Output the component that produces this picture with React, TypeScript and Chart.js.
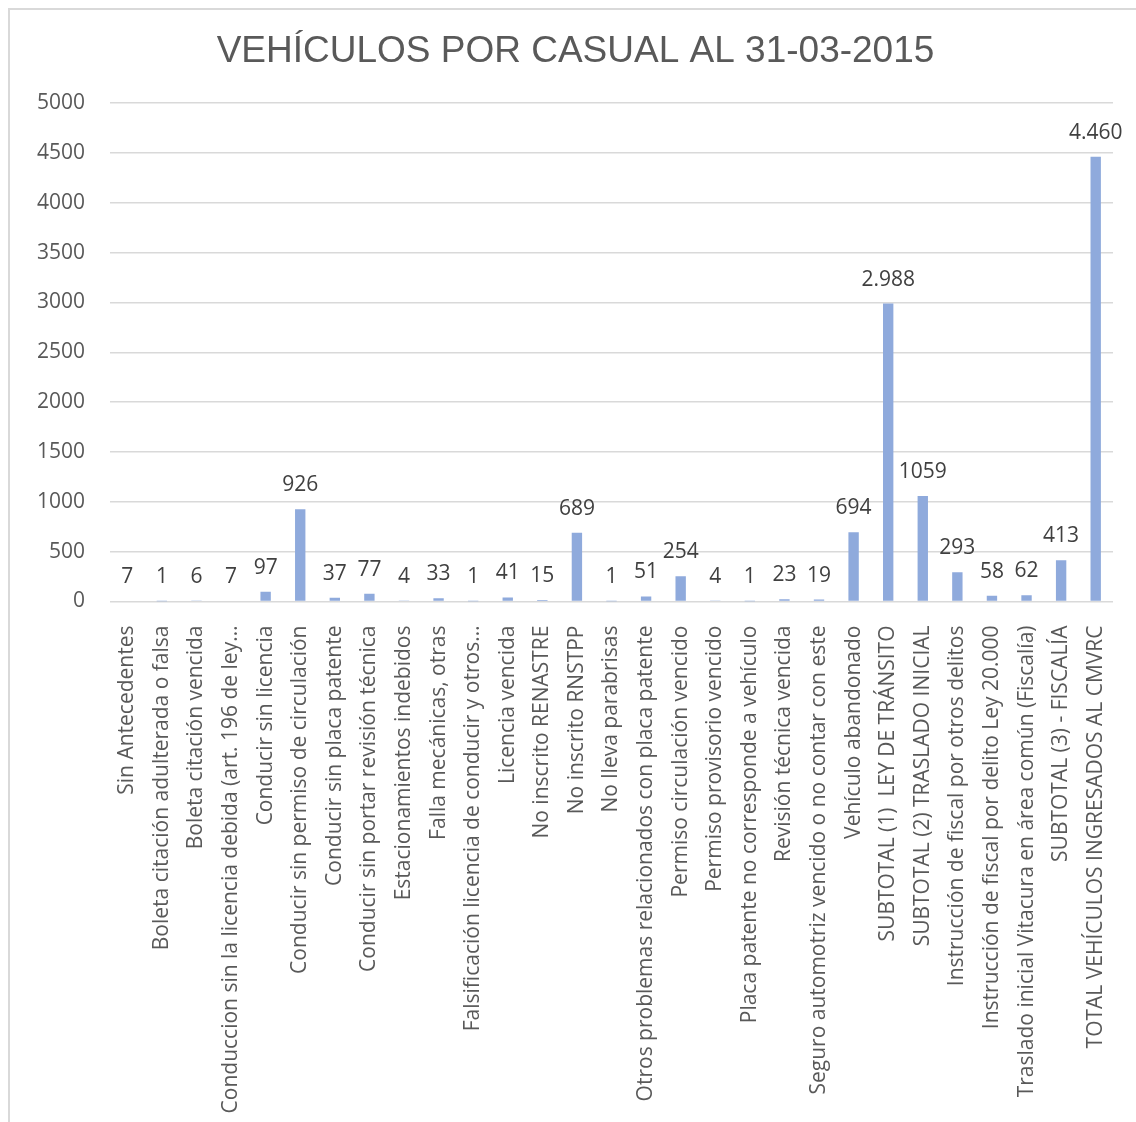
import React, { useEffect, useRef } from "react";
import { Chart, registerables } from "chart.js";

Chart.register(...registerables);

const TITLE = "VEHÍCULOS POR CASUAL AL 31-03-2015";

const categories = [
  "Sin Antecedentes",
  "Boleta citación adulterada o falsa",
  "Boleta citación vencida",
  "Conduccion sin la licencia debida (art. 196 de ley…",
  "Conducir sin licencia",
  "Conducir sin permiso de circulación",
  "Conducir sin placa patente",
  "Conducir sin portar revisión técnica",
  "Estacionamientos indebidos",
  "Falla mecánicas, otras",
  "Falsificación licencia de conducir y otros…",
  "Licencia vencida",
  "No inscrito RENASTRE",
  "No inscrito RNSTPP",
  "No lleva parabrisas",
  "Otros problemas relacionados con placa patente",
  "Permiso circulación vencido",
  "Permiso provisorio vencido",
  "Placa patente no corresponde a vehículo",
  "Revisión técnica vencida",
  "Seguro automotriz vencido o no contar con este",
  "Vehículo abandonado",
  "SUBTOTAL (1)  LEY DE TRÁNSITO",
  "SUBTOTAL (2) TRASLADO INICIAL",
  "Instrucción de fiscal por otros delitos",
  "Instrucción de fiscal por delito Ley 20.000",
  "Traslado inicial Vitacura en área común (Fiscalía)",
  "SUBTOTAL (3) - FISCALÍA",
  "TOTAL VEHÍCULOS INGRESADOS AL CMVRC",
];

const values = [
  7, 1, 6, 7, 97, 926, 37, 77, 4, 33, 1, 41, 15, 689, 1, 51, 254, 4, 1, 23, 19,
  694, 2988, 1059, 293, 58, 62, 413, 4460,
];

const valueLabels = [
  "7", "1", "6", "7", "97", "926", "37", "77", "4", "33", "1", "41", "15", "689",
  "1", "51", "254", "4", "1", "23", "19", "694", "2.988", "1059", "293", "58",
  "62", "413", "4.460",
];

const Y_MIN = 0;
const Y_MAX = 5000;
const Y_STEP = 500;

const FONT = '"Open Sans", "DejaVu Sans", sans-serif';
const CANVAS_W = 1126;
const CANVAS_H = 1112;

const dataLabelPlugin = {
  id: "valueLabels",
  afterDatasetsDraw(chart: any) {
    const ctx = chart.ctx;
    const meta = chart.getDatasetMeta(0);
    ctx.save();
    ctx.font = `21px ${FONT}`;
    ctx.fillStyle = "#404040";
    ctx.textAlign = "center";
    ctx.textBaseline = "middle";
    meta.data.forEach((el: any, i: number) => {
      ctx.fillText(valueLabels[i], el.x, el.y - 24);
    });
    ctx.restore();
  },
};

const titlePlugin = {
  id: "excelTitle",
  afterDraw(chart: any) {
    const ctx = chart.ctx;
    ctx.save();
    ctx.font = `37px "Liberation Sans", Arial, sans-serif`;
    ctx.fillStyle = "#595959";
    ctx.textAlign = "center";
    ctx.textBaseline = "alphabetic";
    ctx.fillText(TITLE, chart.width / 2 + 2.5, 52);
    ctx.restore();
  },
};

export default function App() {
  const canvasRef = useRef<HTMLCanvasElement | null>(null);

  useEffect(() => {
    if (!canvasRef.current) return;
    const chart = new Chart(canvasRef.current, {
      type: "bar",
      data: {
        labels: categories,
        datasets: [
          {
            data: values,
            backgroundColor: "#8faadc",
            borderWidth: 0,
            barPercentage: 0.3,
            categoryPercentage: 1,
          },
        ],
      },
      options: {
        animation: false,
        responsive: false,
        maintainAspectRatio: false,
        devicePixelRatio: 1,
        layout: { padding: { left: 0, right: 23, top: 93, bottom: 0 } },
        plugins: {
          legend: { display: false },
          tooltip: { enabled: false },
          title: { display: false },
        },
        scales: {
          x: {
            grid: { display: false, drawTicks: false },
            border: { display: false },
            ticks: {
              autoSkip: false,
              maxRotation: 90,
              minRotation: 90,
              padding: 24,
              color: "#595959",
              font: { family: FONT, size: 21 },
            },
            afterFit: (scale: any) => {
              scale.height = 520.5;
              scale.paddingLeft = 0;
              scale.paddingRight = 0;
            },
          },
          y: {
            min: Y_MIN,
            max: Y_MAX,
            grid: { color: "#d9d9d9", lineWidth: 1.5, drawTicks: false },
            border: { display: false },
            ticks: {
              stepSize: Y_STEP,
              padding: 25,
              color: "#595959",
              font: { family: FONT, size: 21 },
              callback: (v: any) => String(v),
            },
            afterFit: (scale: any) => {
              scale.width = 100;
            },
          },
        },
      },
      plugins: [dataLabelPlugin, titlePlugin],
    });
    return () => chart.destroy();
  }, []);

  return (
    <div
      style={{
        position: "fixed",
        top: 8,
        left: 8,
        width: 1128,
        height: 1114,
        boxSizing: "border-box",
        borderTop: "2px solid #d9d9d9",
        borderLeft: "2px solid #d9d9d9",
        background: "#fff",
        overflow: "hidden",
      }}
    >
      <canvas ref={canvasRef} width={CANVAS_W} height={CANVAS_H} style={{ display: "block" }} />
    </div>
  );
}
